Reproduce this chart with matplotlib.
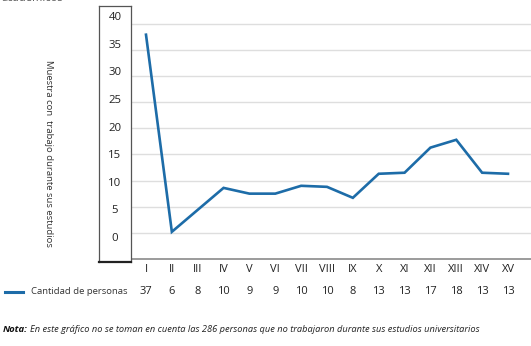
import matplotlib
matplotlib.use("Agg")
import matplotlib.pyplot as plt
from matplotlib.lines import Line2D

# data
periods = ["I", "II", "III", "IV", "V", "VI", "VII", "VIII", "IX", "X",
           "XI", "XII", "XIII", "XIV", "XV"]
counts = [37, 6, 8, 10, 9, 9, 10, 10, 8, 13, 13, 17, 18, 13, 13]
line_values = [37.9, 0.2, 4.4, 8.6, 7.5, 7.5, 9.0, 8.8, 6.7, 11.3,
               11.5, 16.3, 17.8, 11.5, 11.3]
y_ticks = [0, 5, 10, 15, 20, 25, 30, 35, 40]

W, H = 531, 346
blue = "#1d6ca8"
plt.rcParams['font.family'] = ['Open Sans', 'DejaVu Sans']

fig = plt.figure(figsize=(W / 100, H / 100), dpi=100)

def px_axes(x0, y0, x1, y1):
    # pixel box (top-left origin) -> figure fraction axes
    return fig.add_axes([x0 / W, 1 - y1 / H, (x1 - x0) / W, (y1 - y0) / H])

# main plot area
ax = px_axes(131, 19, 531, 259)
ax.plot(range(len(periods)), line_values, color=blue, lw=1.9,
        solid_joinstyle='miter')
ax.set_xlim(-0.58, 14.89)
ax.set_ylim(-5, 40.9)
ax.set_yticks(y_ticks)
ax.yaxis.grid(True, color="#dedede", lw=1)
ax.set_axisbelow(True)
ax.tick_params(left=False, bottom=False, labelleft=False, labelbottom=False)
for s in ["top", "right", "left"]:
    ax.spines[s].set_visible(False)
ax.spines["bottom"].set_color("#8a8a8a")
ax.spines["bottom"].set_linewidth(1.2)

# boxed y tick labels
box = px_axes(99, 6, 131, 262)
box.set_xlim(0, 1)
box.set_ylim(-4.36, 42.18)
box.set_xticks([])
box.set_yticks([])
for s in box.spines.values():
    s.set_color("#555555")
    s.set_linewidth(0.9)
box.spines["bottom"].set_color("#222222")
box.spines["bottom"].set_linewidth(1.6)
for v in y_ticks:
    box.text(0.5, v, str(v), ha="center", va="center", fontsize=8.2, color="#222222")

# y axis title
fig.text(48 / W, 1 - 153 / H, "Muestra con  trabajo durante sus estudios",
         rotation=270, ha="center", va="center", fontsize=6.8, color="#333333")

# data table below the chart
for i, (p, c) in enumerate(zip(periods, counts)):
    xf = (146 + i * 25.86) / W
    fig.text(xf, 1 - 270 / H, p, ha="center", va="center", fontsize=8, color="#222222")
    fig.text(xf, 1 - 292 / H, str(c), ha="center", va="center", fontsize=8, color="#222222")

fig.add_artist(Line2D([5 / W, 23 / W], [1 - 292 / H, 1 - 292 / H],
                      color=blue, lw=2.2, transform=fig.transFigure))
fig.text(31 / W, 1 - 292 / H, "Cantidad de personas", ha="left", va="center",
         fontsize=6.8, color="#333333")

# note
fig.text(3 / W, 1 - 330 / H, "Nota:", ha="left", va="center", fontsize=6.8,
         fontweight="bold", style="italic", color="#111111")
fig.text(30 / W, 1 - 330 / H,
         "En este gráfico no se toman en cuenta las 286 personas que no trabajaron durante sus estudios universitarios",
         ha="left", va="center", fontsize=6.7, style="italic", color="#222222")

# heading text cut by the top edge, as in the original
fig.text(2 / W, 1 - 1 / H, "académicos", ha="left", va="baseline",
         fontsize=8, color="#555555")

fig.savefig("out.png", dpi=100)
